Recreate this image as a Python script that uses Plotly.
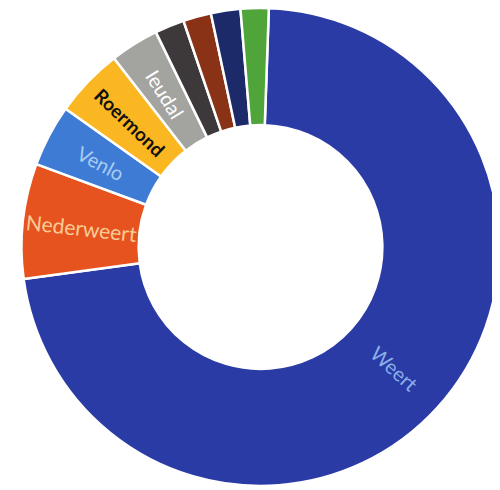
import math
import plotly.graph_objects as go

labels = ["Weert", "Nederweert", "Venlo", "Roermond", "Ieudal", "Overig 1", "Overig 2", "Overig 3", "Overig 4"]
values = [72.6, 7.8, 4.2, 4.7, 3.3, 2.0, 1.9, 2.0, 1.9]
shown_text = ["Weert", "Nederweert", "Venlo", "<b>Roermond</b>", "Ieudal", "", "", "", ""]
colors = ["#2B3BA5", "#E6531E", "#3D7BD5", "#FBB721", "#A3A3A0", "#3D393B", "#8A3216", "#1C2A6A", "#4FA53A"]
text_colors = ["#8AB0E8", "#F8CC98", "#A9CCF2", "#111111", "#FFFFFF", "#FFFFFF", "#FFFFFF", "#FFFFFF", "#FFFFFF"]
text_sizes = [20, 21, 20, 19, 20, 10, 10, 10, 10]

FONT = "Lato, Open Sans, sans-serif"
HOLE = 0.51
ROTATION = 2
W, H = 492, 482
M = dict(l=13, r=0, t=0, b=4)

fig = go.Figure(go.Pie(
    labels=labels,
    values=values,
    textinfo="none",
    hole=HOLE,
    sort=False,
    direction="clockwise",
    rotation=ROTATION,
    marker=dict(colors=colors, line=dict(color="white", width=2.5)),
    showlegend=False,
    hoverinfo="label+percent",
))

# Slice labels, placed at each slice's mid-angle and mid-ring radius, radially oriented
plot_w = W - M["l"] - M["r"]
plot_h = H - M["t"] - M["b"]
radius = min(plot_w, plot_h) / 2
r_mid = radius * (1 + HOLE) / 2
total = sum(values)
cum = 0.0
for lab, val, txt, col, size in zip(labels, values, shown_text, text_colors, text_sizes):
    mid_deg = ROTATION + (cum + val / 2) / total * 360
    cum += val
    if not txt:
        continue
    ax = 0.5 + r_mid * math.sin(math.radians(mid_deg)) / plot_w
    ay = 0.5 + r_mid * math.cos(math.radians(mid_deg)) / plot_h
    angle = mid_deg - 90 if mid_deg < 180 else mid_deg - 270
    fig.add_annotation(
        x=ax, y=ay, xref="paper", yref="paper",
        xanchor="center", yanchor="middle",
        text=txt, showarrow=False,
        textangle=angle,
        font=dict(family=FONT, size=size, color=col),
    )

fig.update_layout(
    width=W, height=H,
    margin=M,
    paper_bgcolor="white",
    plot_bgcolor="white",
)

fig.write_html("out.html")
